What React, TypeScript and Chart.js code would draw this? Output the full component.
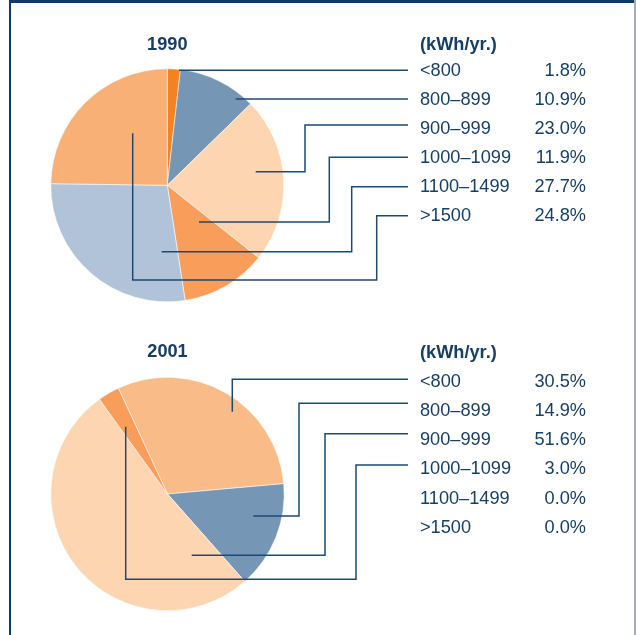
import React, { useEffect, useRef } from 'react';
import { Chart, registerables } from 'chart.js';

Chart.register(...registerables);

// ---- data ----
const categories = ['<800', '800–899', '900–999', '1000–1099', '1100–1499', '>1500'];
const values1990 = [1.8, 10.9, 23.0, 11.9, 27.7, 24.8];
const values2001 = [30.5, 14.9, 51.6, 3.0, 0.0, 0.0];
const colors1990 = ['#F58220', '#7597B5', '#FDD5B1', '#F89E5A', '#B0C3D8', '#F9B077'];
const colors2001 = ['#F9BC88', '#7597B5', '#FDD5B1', '#F89E5A', '#B0C3D8', '#F9B077'];
const unitLabel = '(kWh/yr.)';

// ---- layout / style ----
const W = 636;
const FONT = '"Liberation Sans", Arial, Helvetica, sans-serif';
const FONT_SIZE = 18.2;
const TEXT = '#173f66';
const LINE = '#1d4a74';
const FRAME = '#0b3c69';

type Pt = [number, number];
type Layout = {
  top: number;
  height: number;
  cx: number;
  cy: number;
  r: number;
  rotation: number;
  titleY: number;
  headerY: number;
  rowY0: number;
  rowStep: number;
  leaders: Pt[][]; // offsets from pie centre
};

const layout1990: Layout = {
  top: 0,
  height: 318,
  cx: 167.3,
  cy: 185.3,
  r: 116.5,
  rotation: 0,
  titleY: 44.5,
  headerY: 44.5,
  rowY0: 70.7,
  rowStep: 29.15,
  leaders: [
    [[240.7, -115], [11.7, -115]],
    [[240.7, -86.3], [68.4, -86.3]],
    [[240.7, -60.3], [137.7, -60.3], [137.7, -13.6], [88.4, -13.6]],
    [[240.7, -28], [162, -28], [162, 36.7], [31.7, 36.7]],
    [[240.7, 1.4], [184.4, 1.4], [184.4, 66.4], [-5.6, 66.4]],
    [[240.7, 30.4], [209.4, 30.4], [209.4, 94.7], [-34.6, 94.7], [-34.6, -52]],
  ],
};

const layout2001: Layout = {
  top: 318,
  height: 317,
  cx: 167.5,
  cy: 176,
  r: 116.7,
  rotation: -24.9,
  titleY: 34,
  headerY: 35.2,
  rowY0: 63.9,
  rowStep: 29.15,
  leaders: [
    [[240.5, -114.7], [64.8, -114.7], [64.8, -82.3]],
    [[240.5, -90.7], [131.5, -90.7], [131.5, 22], [85.8, 22]],
    [[240.5, -60.3], [157.5, -60.3], [157.5, 61.3], [24.2, 61.3]],
    [[240.5, -29], [188.5, -29], [188.5, 85.3], [-41.8, 85.3], [-41.8, -67.3]],
  ],
};

const LABEL_X = 420;
const PCT_RIGHT = 586;

function PiePanel({ title, values, colors, L }: { title: string; values: number[]; colors: string[]; L: Layout }) {
  const ref = useRef<HTMLCanvasElement>(null);

  useEffect(() => {
    if (!ref.current) return;
    const bw = 1;
    const half = L.r + bw / 2;
    const padding = {
      left: L.cx - half,
      right: W - (L.cx + half),
      top: L.cy - half,
      bottom: L.height - (L.cy + half),
    };

    const annot = {
      id: 'annot',
      afterDraw(chart: any) {
        const ctx = chart.ctx as CanvasRenderingContext2D;
        const arc = chart.getDatasetMeta(0).data[0] as any;
        const cx = arc.x;
        const cy = arc.y;
        ctx.save();
        // leader lines
        ctx.strokeStyle = LINE;
        ctx.lineWidth = 1.5;
        ctx.lineJoin = 'miter';
        L.leaders.forEach((path) => {
          ctx.beginPath();
          path.forEach(([dx, dy], i) => {
            const x = cx + dx;
            const y = cy + dy;
            if (i === 0) ctx.moveTo(x, y);
            else ctx.lineTo(x, y);
          });
          ctx.stroke();
        });
        // title
        ctx.fillStyle = TEXT;
        ctx.textBaseline = 'middle';
        ctx.font = `bold ${FONT_SIZE}px ${FONT}`;
        ctx.textAlign = 'center';
        ctx.fillText(title, cx, L.titleY);
        ctx.textAlign = 'left';
        ctx.fillText(unitLabel, LABEL_X, L.headerY);
        // rows
        ctx.font = `${FONT_SIZE}px ${FONT}`;
        categories.forEach((c, i) => {
          const y = L.rowY0 + i * L.rowStep;
          ctx.textAlign = 'left';
          ctx.fillText(c, LABEL_X, y);
          ctx.textAlign = 'right';
          ctx.fillText(values[i].toFixed(1) + '%', PCT_RIGHT, y);
        });
        ctx.restore();
      },
    };

    const chart = new Chart(ref.current, {
      type: 'pie',
      data: {
        labels: categories,
        datasets: [
          {
            data: values,
            backgroundColor: colors,
            borderColor: 'rgba(255,255,255,0.55)',
            borderWidth: bw,
          },
        ],
      },
      options: {
        responsive: false,
        animation: false,
        rotation: L.rotation,
        events: [],
        layout: { padding },
        plugins: {
          legend: { display: false },
          tooltip: { enabled: false },
          title: { display: false },
        },
      },
      plugins: [annot],
    } as any);
    return () => chart.destroy();
  }, []);

  return (
    <canvas
      ref={ref}
      width={W}
      height={L.height}
      style={{ position: 'absolute', left: 0, top: L.top, width: W, height: L.height }}
    />
  );
}

export default function App() {
  return (
    <div style={{ position: 'absolute', left: 0, top: 0, width: W, height: 635, background: '#fff', overflow: 'hidden' }}>
      <PiePanel title="1990" values={values1990} colors={colors1990} L={layout1990} />
      <PiePanel title="2001" values={values2001} colors={colors2001} L={layout2001} />
      <div style={{ position: 'absolute', left: 9, top: 0, width: 626, height: 3, background: FRAME }} />
      <div style={{ position: 'absolute', left: 9, top: 0, width: 1.5, height: 635, background: FRAME }} />
      <div style={{ position: 'absolute', left: 634, top: 0, width: 1.5, height: 635, background: '#a3adb8' }} />
    </div>
  );
}
